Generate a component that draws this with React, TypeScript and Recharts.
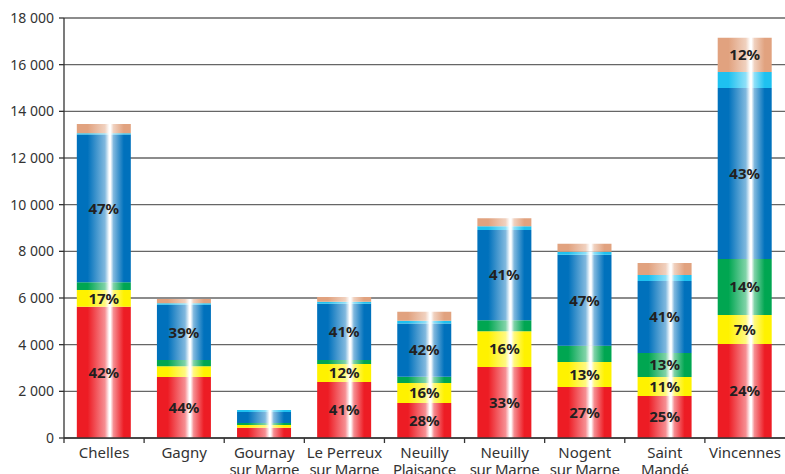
import React from 'react';
import { BarChart, Bar, XAxis, YAxis, CartesianGrid, LabelList } from 'recharts';

const communes = [
  'Chelles|',
  'Gagny|',
  'Gournay|sur Marne',
  'Le Perreux|sur Marne',
  'Neuilly|Plaisance',
  'Neuilly|sur Marne',
  'Nogent|sur Marne',
  'Saint|Mandé',
  'Vincennes|',
];

// stacked segments, bottom to top
const rouge = [5620, 2610, 440, 2400, 1500, 3040, 2190, 1800, 4030];
const jaune = [720, 470, 120, 770, 860, 1540, 1070, 810, 1240];
const vert = [340, 260, 80, 170, 260, 470, 690, 1030, 2400];
const bleu = [6330, 2370, 470, 2410, 2290, 3860, 3900, 3090, 7330];
const cyan = [50, 60, 90, 90, 110, 170, 130, 260, 690];
const beige = [400, 190, 0, 200, 390, 340, 340, 510, 1460];

// percentage labels printed inside the segments
const rougePct = ['42%', '44%', '', '41%', '28%', '33%', '27%', '25%', '24%'];
const jaunePct = ['17%', '', '', '12%', '16%', '16%', '13%', '11%', '7%'];
const vertPct = ['', '', '', '', '', '', '', '13%', '14%'];
const bleuPct = ['47%', '39%', '', '41%', '42%', '41%', '47%', '41%', '43%'];
const beigePct = ['', '', '', '', '', '', '', '', '12%'];

const yTicks = [0, 2000, 4000, 6000, 8000, 10000, 12000, 14000, 16000, 18000];

const data = communes.map((name, i) => ({
  name,
  rouge: rouge[i],
  jaune: jaune[i],
  vert: vert[i],
  bleu: bleu[i],
  cyan: cyan[i],
  beige: beige[i],
  rougePct: rougePct[i],
  jaunePct: jaunePct[i],
  vertPct: vertPct[i],
  bleuPct: bleuPct[i],
  beigePct: beigePct[i],
}));

const series = [
  { key: 'rouge', color: '#ED1C24', label: 'rougePct' },
  { key: 'jaune', color: '#FFF200', label: 'jaunePct' },
  { key: 'vert', color: '#00A651', label: 'vertPct' },
  { key: 'bleu', color: '#0071BC', label: 'bleuPct' },
  { key: 'cyan', color: '#1EC1F0', label: null },
  { key: 'beige', color: '#E1A27F', label: 'beigePct' },
];

const FONT = '"Noto Sans", "DejaVu Sans", sans-serif';
const BAND = 721 / communes.length;

const formatThousands = (v: number) => String(v).replace(/\B(?=(\d{3})+(?!\d))/g, ' ');

// blend a hex colour towards white
function lighten(hex: string, t: number) {
  const n = parseInt(hex.slice(1), 16);
  const ch = [(n >> 16) & 255, (n >> 8) & 255, n & 255].map(c => Math.round(c + (255 - c) * t));
  return `rgb(${ch.join(',')})`;
}

function CommuneTick(props: any) {
  const { x, y, payload } = props;
  const [l1, l2] = String(payload.value).split('|');
  return (
    <g>
      <line x1={x - BAND / 2} x2={x - BAND / 2} y1={y} y2={y + 5} stroke="#333" strokeWidth={1.3} />
      <text x={x} y={y + 20} textAnchor="middle" fill="#333" fontSize={15} fontFamily={FONT}>
        {l1}
      </text>
      {l2 && (
        <text x={x} y={y + 37} textAnchor="middle" fill="#333" fontSize={15} fontFamily={FONT} letterSpacing={-0.3}>
          {l2}
        </text>
      )}
    </g>
  );
}

export default function App() {
  return (
    <div style={{ position: 'absolute', left: 0, top: 0, background: '#fff' }}>
      <BarChart
        width={785}
        height={474}
        data={data}
        margin={{ top: 18, right: 0, left: 0, bottom: 0 }}
        barCategoryGap="16%"
      >
        <defs>
          {series.map(s => (
            <linearGradient key={s.key} id={`grad-${s.key}`} x1="0" y1="0" x2="1" y2="0">
              <stop offset="0" stopColor={s.color} />
              <stop offset="0.2" stopColor={s.color} />
              <stop offset="0.52" stopColor={lighten(s.color, 0.5)} />
              <stop offset="0.6" stopColor="#ffffff" />
              <stop offset="0.625" stopColor="#ffffff" />
              <stop offset="0.68" stopColor={lighten(s.color, 0.5)} />
              <stop offset="0.87" stopColor={s.color} />
              <stop offset="1" stopColor={s.color} />
            </linearGradient>
          ))}
        </defs>
        <CartesianGrid vertical={false} stroke="#666" strokeWidth={1.3} />
        <XAxis
          dataKey="name"
          interval={0}
          height={36}
          tickSize={0}
          tickMargin={0}
          tickLine={false}
          axisLine={{ stroke: '#333', strokeWidth: 1.3 }}
          tick={<CommuneTick />}
        />
        <YAxis
          width={64}
          domain={[0, 18000]}
          ticks={yTicks}
          interval={0}
          tickFormatter={formatThousands}
          tickSize={5}
          tickMargin={5}
          axisLine={{ stroke: '#333', strokeWidth: 1.3 }}
          tickLine={{ stroke: '#333', strokeWidth: 1.3 }}
          tick={{ fill: '#333', fontSize: 14, fontFamily: FONT }}
        />
        {series.map(s => (
          <Bar key={s.key} dataKey={s.key} stackId="a" fill={`url(#grad-${s.key})`} isAnimationActive={false}>
            {s.label && (
              <LabelList
                dataKey={s.label}
                position="center"
                fill="#231F20"
                fontSize={15}
                fontWeight="bold"
                fontFamily={FONT}
              />
            )}
          </Bar>
        ))}
      </BarChart>
    </div>
  );
}
